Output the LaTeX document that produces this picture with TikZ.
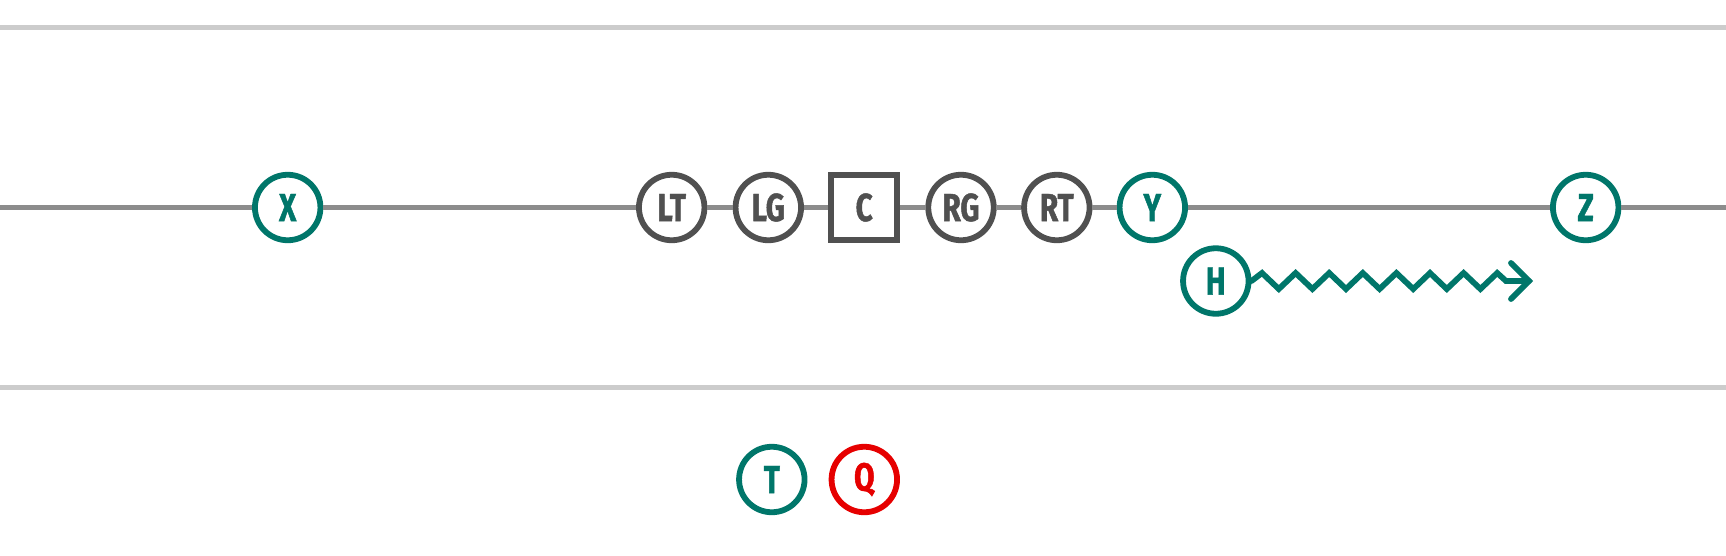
\documentclass[tikz,border=0pt]{standalone}
\usepackage{fontspec}
\newfontfamily\lab[FakeStretch=0.76,FakeBold=1.2]{Fira Sans}
\definecolor{teal}{RGB}{0,118,106}
\definecolor{dk}{RGB}{80,80,80}
\definecolor{rd}{RGB}{230,0,0}
\definecolor{midline}{RGB}{140,140,140}
\definecolor{field}{RGB}{204,204,204}
\begin{document}
\begin{tikzpicture}[x=1pt,y=-1pt,
  player/.style={circle,draw=#1,text=#1,line width=5.8pt,minimum size=65.5pt,inner sep=0pt,fill=white,font=\lab\bfseries\fontsize{39}{39}\selectfont},
  center/.style={rectangle,draw=dk,text=dk,line width=6pt,minimum size=65.5pt,inner sep=0pt,fill=white,font=\lab\bfseries\fontsize{39}{39}\selectfont},
  los/.style={draw=midline,line width=5.5pt},
  yard/.style={draw=field,line width=5pt},
  route/.style={draw=teal,line width=5.8pt,line join=miter,line cap=round}]
\useasboundingbox (0,0) rectangle (1726,555);
\coordinate (tl) at (0,27); \coordinate (tr) at (1726,27);
\coordinate (bl) at (0,387.5); \coordinate (br) at (1726,387.5);
\draw[yard] (tl) -- (tr);
\draw[yard] (bl) -- (br);
\coordinate (ml) at (0,207.5); \coordinate (mr) at (1726,207.5);
\node[player=teal] (X) at (287.7,207.5) {X};
\node[player=dk] (LT) at (671.7,207.5) {LT};
\node[player=dk] (LG) at (768.3,207.5) {LG};
\node[center] (C) at (864.2,207.5) {C};
\node[player=dk] (RG) at (961,207.5) {RG};
\node[player=dk] (RT) at (1056.8,207.5) {RT};
\node[player=teal] (Y) at (1152.3,207.5) {Y};
\node[player=teal] (Z) at (1585.7,207.5) {Z};
\node[player=teal] (H) at (1215.8,281) {H};
\node[player=teal] (T) at (771.8,479.5) {T};
\node[player=rd] (Q) at (864.3,479.5) {Q};
\draw[los] (ml) -- (X) -- (LT) -- (LG) -- (C) -- (RG) -- (RT) -- (Y) -- (Z) -- (mr);
\coordinate (tip) at (1529,281);
\draw[route] (H.east) -- (1262,273)
  -- (1278.8,289) -- (1295.6,273) -- (1312.4,289) -- (1329.2,273)
  -- (1346,289) -- (1362.8,273) -- (1379.6,289) -- (1396.4,273)
  -- (1413.2,289) -- (1430,273) -- (1446.8,289) -- (1463.6,273)
  -- (1480.4,289) -- (1497.2,273) -- (1506,281) -- (tip);
\draw[route] (1511,263) -- (tip) -- (1511,299);
\end{tikzpicture}
\end{document}
